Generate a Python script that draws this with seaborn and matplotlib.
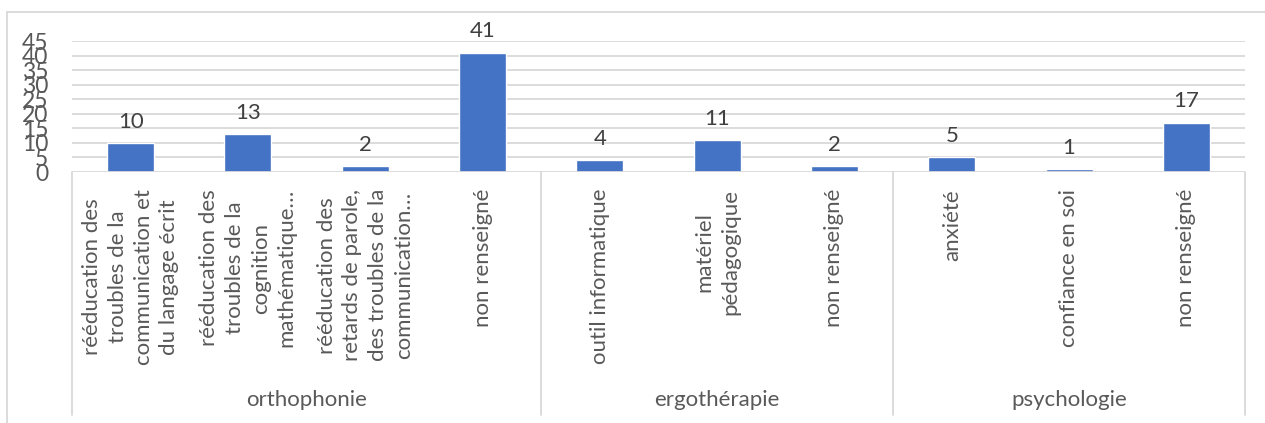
import matplotlib
matplotlib.use("Agg")
import matplotlib.pyplot as plt
import matplotlib.transforms as mtransforms
from matplotlib.patches import Rectangle
import seaborn as sns
import pandas as pd

# ---- data ----
groups = ["orthophonie", "orthophonie", "orthophonie", "orthophonie",
          "ergothérapie", "ergothérapie", "ergothérapie",
          "psychologie", "psychologie", "psychologie"]
categories = [
    "rééducation des\ntroubles de la\ncommunication et\ndu langage écrit",
    "rééducation des\ntroubles de la\ncognition\nmathématique…",
    "rééducation des\nretards de parole,\ndes troubles de la\ncommunication…",
    "non renseigné",
    "outil informatique",
    "matériel\npédagogique",
    "non renseigné",
    "anxiété",
    "confiance en soi",
    "non renseigné",
]
values = [10, 13, 2, 41, 4, 11, 2, 5, 1, 17]
group_names = ["orthophonie", "ergothérapie", "psychologie"]
y_ticks = [0, 5, 10, 15, 20, 25, 30, 35, 40, 45]

df = pd.DataFrame({
    "key": [f"{g}|{i}" for i, g in enumerate(groups)],
    "value": values,
})

sns.set_theme(style="white")
plt.rcParams["font.family"] = ["Lato", "DejaVu Sans"]

W, H = 1265, 423
fig = plt.figure(figsize=(W / 100, H / 100), dpi=100)
left, right, top, bottom = 72, 1245, 41, 172
ax = fig.add_axes([left / W, (H - bottom) / H, (right - left) / W, (bottom - top) / H])

sns.barplot(data=df, x="key", y="value", color="#4472C4", width=0.4,
            saturation=1, ax=ax, zorder=3)

ax.set_xlim(-0.5, len(values) - 0.5)
ax.set_ylim(0, 45)
ax.set_yticks(y_ticks)
ax.set_yticklabels([str(t) for t in y_ticks], fontsize=16.5, color="#595959")
ax.tick_params(axis="y", length=0, pad=17)
ax.tick_params(axis="x", length=0)
ax.set_xticklabels([])
ax.set_xlabel("")
ax.set_ylabel("")
for s in ax.spines.values():
    s.set_visible(False)
ax.grid(False)
for t in y_ticks[1:]:
    ax.axhline(t, color="#D9D9D9", lw=1.3, zorder=1)
ax.axhline(0, color="#D9D9D9", lw=1.3, zorder=4)

# value labels
for i, v in enumerate(values):
    ax.annotate(str(v), xy=(i, v), xytext=(0, 11), textcoords="offset points",
                ha="center", va="baseline", fontsize=16, color="#404040")

# category labels and group separators
trans = mtransforms.blended_transform_factory(ax.transData, ax.transAxes)
px = 1.0 / (bottom - top)  # one pixel in axes fraction
for i, c in enumerate(categories):
    ax.text(i, -(189 - bottom) * px, c, transform=trans, rotation=90,
            ha="center", va="top", multialignment="center",
            fontsize=16, color="#595959", linespacing=1.36)

bounds = []
start = 0
for g in group_names:
    n = groups.count(g)
    bounds.append((start, start + n))
    start += n
sep_x = [-0.5] + [b[1] - 0.5 for b in bounds]
for x in sep_x:
    ax.plot([x, x], [0, -(415 - bottom) * px], transform=trans, color="#D9D9D9",
            lw=1.3, clip_on=False, zorder=4)
for g, (a, b) in zip(group_names, bounds):
    ax.text((a + b - 1) / 2, -(400 - bottom) * px, g, transform=trans,
            ha="center", va="center", fontsize=16, color="#595959")

# outer chart frame
fig.patches.append(Rectangle((7 / W, -0.1), 1.2, (H - 12) / H + 0.1,
                             transform=fig.transFigure, fill=False,
                             edgecolor="#D9D9D9", lw=1.3))

fig.savefig("out.png", dpi=100, facecolor="white")
